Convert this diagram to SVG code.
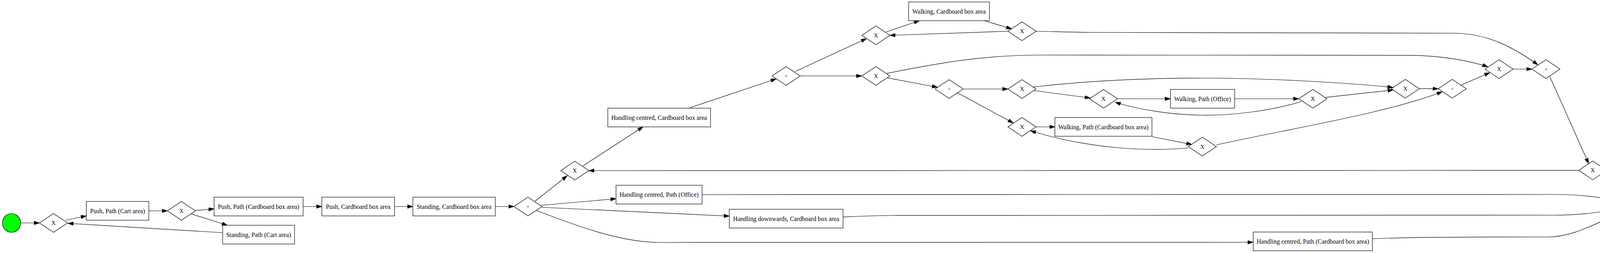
<svg xmlns="http://www.w3.org/2000/svg" width="4335" height="648" viewBox="0 0 4335 648">
<style>
.task rect{fill:#fff;stroke:#000;stroke-width:1.2}
.gw polygon{fill:#fff;stroke:#000;stroke-width:1.2}
text{font-family:"Liberation Serif","Times New Roman",serif;fill:#000;text-anchor:middle}
.t{font-size:16px}
.x{font-size:15px}
.p{font-size:13px}
#edges path{fill:none;stroke:#000;stroke-width:1.2;marker-end:url(#arr)}
</style>
<defs>
<marker id="arr" markerUnits="userSpaceOnUse" markerWidth="16" markerHeight="10" refX="14" refY="4.6" orient="auto">
<path d="M0,0 L14,4.6 L0,9.2 z" fill="#000" stroke="#000" stroke-width="1"/>
</marker>
</defs>
<rect width="4335" height="648" fill="#fff"/>
<g id="edges">
<path d="M53,571 L101,571"/>
<path d="M168,564 L221,553"/>
<path d="M381,540 L428.5,540"/>
<path d="M500,539 L548,535"/>
<path d="M490,548 L582,577"/>
<path d="M570,596 L174,572"/>
<path d="M776,529 L824,529"/>
<path d="M1010,529 L1057,529"/>
<path d="M1268,529 L1315.5,529"/>
<path d="M1369,516 L1452,450"/>
<path d="M1385,526 L1577,509"/>
<path d="M1387,531 L1867,553.5"/>
<path d="M1373,539 C1480,580 1590,621 1690,621 L3208,620.5"/>
<path d="M1492,425 L1646,325"/>
<path d="M1763,277 L1987,202"/>
<path d="M2036,183 L2218,99"/>
<path d="M2048.5,194.5 L2206.3,194.5"/>
<path d="M2268,82 L2353.6,53"/>
<path d="M2520,53 L2590,74"/>
<path d="M2580.3,80 L2278.3,90.5"/>
<path d="M2652.3,80 C2700,81 2760,83 2800,83 L3723,85 C3810,85 3880,125 3937,166"/>
<path d="M2270,188 C2420,158 2520,142 2660,141 L3606,141.6 C3700,141.6 3775,160 3809,171"/>
<path d="M2270,199 L2400,223.5"/>
<path d="M2465.7,228 L2580.3,228"/>
<path d="M2451.5,238 L2594,315"/>
<path d="M2645,223 C2800,205 2950,200 3077,200 C3250,200 3450,212 3566,224"/>
<path d="M2647,232 L2791,251"/>
<path d="M2652.3,325 L2700.5,325"/>
<path d="M2861,253 L2996.4,253"/>
<path d="M3160.7,253 L3325,253"/>
<path d="M3332,260 C3250,285 3150,296 3077,295 C3000,294 2920,282 2855,262"/>
<path d="M3394,249.3 L3566.6,230.5"/>
<path d="M2949,350 L3051,370"/>
<path d="M3042,379 C2950,387 2800,385 2638,335"/>
<path d="M3114,371 C3300,330 3550,290 3692,235"/>
<path d="M3740.7,218 L3814,186"/>
<path d="M3633.7,227.2 L3681.8,227.2"/>
<path d="M3873.6,177 L3921.6,177"/>
<path d="M3967.5,196 L4067,419"/>
<path d="M4041.5,436.4 L1507.5,437"/>
<path d="M4096,449.8 L4176,515"/>
<path d="M1797.4,498.5 L3979,498 C4060,498 4120,508 4167,520"/>
<path d="M2158,555.7 C2200,554 2250,551.7 2300,551.7 L3979,551 C4060,551 4120,540 4167,530"/>
<path d="M3513,611.5 C3600,608 3700,607 3960,607 C4040,607 4100,560 4176,537"/>
<path d="M4233.4,526 L4281,526"/>
</g>
<g id="start"><ellipse cx="29.5" cy="571" rx="23.5" ry="24" fill="#00ff00" stroke="#000" stroke-width="1.2"/></g>
<g id="end"><ellipse cx="4305.3" cy="526" rx="24" ry="24" fill="#ffa500" stroke="#000" stroke-width="1.2"/></g>
<g id="x1" class="gw"><polygon points="101,571 137,547 173,571 137,595"/><text class="x" x="137" y="576">X</text></g>
<g id="x2" class="gw"><polygon points="428.5,540 464.5,516 500.5,540 464.5,564"/><text class="x" x="464.5" y="545">X</text></g>
<g id="a1" class="gw"><polygon points="1315.5,529 1351.5,505 1387.5,529 1351.5,553"/><text class="p" x="1351.5" y="533.5">+</text></g>
<g id="x3" class="gw"><polygon points="1435.5,437 1471.5,413 1507.5,437 1471.5,461"/><text class="x" x="1471.5" y="442">X</text></g>
<g id="a2" class="gw"><polygon points="1976.5,194.5 2012.5,170.5 2048.5,194.5 2012.5,218.5"/><text class="p" x="2012.5" y="199">+</text></g>
<g id="x4" class="gw"><polygon points="2206.3,90.5 2242.3,66.5 2278.3,90.5 2242.3,114.5"/><text class="x" x="2242.3" y="95.5">X</text></g>
<g id="x5" class="gw"><polygon points="2580.3,80 2616.3,56 2652.3,80 2616.3,104"/><text class="x" x="2616.3" y="85">X</text></g>
<g id="x6" class="gw"><polygon points="2206.3,194.5 2242.3,170.5 2278.3,194.5 2242.3,218.5"/><text class="x" x="2242.3" y="199.5">X</text></g>
<g id="a3" class="gw"><polygon points="2393.7,228 2429.7,204 2465.7,228 2429.7,252"/><text class="p" x="2429.7" y="232.5">+</text></g>
<g id="x7" class="gw"><polygon points="2580.3,228 2616.3,204 2652.3,228 2616.3,252"/><text class="x" x="2616.3" y="233">X</text></g>
<g id="x8" class="gw"><polygon points="2580.3,325 2616.3,301 2652.3,325 2616.3,349"/><text class="x" x="2616.3" y="330">X</text></g>
<g id="x9" class="gw"><polygon points="2789,253 2825,229 2861,253 2825,277"/><text class="x" x="2825" y="258">X</text></g>
<g id="x10" class="gw"><polygon points="3325,253 3361,229 3397,253 3361,277"/><text class="x" x="3361" y="258">X</text></g>
<g id="x11" class="gw"><polygon points="3042,375.5 3078,351.5 3114,375.5 3078,399.5"/><text class="x" x="3078" y="380.5">X</text></g>
<g id="x12" class="gw"><polygon points="3561.7,227.2 3597.7,203.2 3633.7,227.2 3597.7,251.2"/><text class="x" x="3597.7" y="232.2">X</text></g>
<g id="a4" class="gw"><polygon points="3681.8,227.2 3717.8,203.2 3753.8,227.2 3717.8,251.2"/><text class="p" x="3717.8" y="231.7">+</text></g>
<g id="x13" class="gw"><polygon points="3801.6,177 3837.6,153 3873.6,177 3837.6,201"/><text class="x" x="3837.6" y="182">X</text></g>
<g id="a5" class="gw"><polygon points="3921.6,177 3957.6,153 3993.6,177 3957.6,201"/><text class="p" x="3957.6" y="181.5">+</text></g>
<g id="x14" class="gw"><polygon points="4041.5,436.4 4077.5,412.4 4113.5,436.4 4077.5,460.4"/><text class="x" x="4077.5" y="441.4">X</text></g>
<g id="a6" class="gw"><polygon points="4161.4,526 4197.4,502 4233.4,526 4197.4,550"/><text class="p" x="4197.4" y="530.5">+</text></g>
<g id="t_push_cart" class="task"><rect x="221" y="516" width="160" height="48"/><text class="t" x="301" y="545.5">Push, Path (Cart area)</text></g>
<g id="t_push_path_cba" class="task"><rect x="548" y="505" width="228" height="48"/><text class="t" x="662" y="534.5">Push, Path (Cardboard box area)</text></g>
<g id="t_standing_cart" class="task"><rect x="570" y="577" width="184" height="48"/><text class="t" x="662" y="606.5">Standing, Path (Cart area)</text></g>
<g id="t_push_cba" class="task"><rect x="824" y="505" width="186" height="48"/><text class="t" x="917" y="534.5">Push, Cardboard box area</text></g>
<g id="t_standing_cba" class="task"><rect x="1057" y="505" width="211" height="48"/><text class="t" x="1162.5" y="534.5">Standing, Cardboard box area</text></g>
<g id="t_handling_cba" class="task"><rect x="1556" y="277" width="263" height="48"/><text class="t" x="1687.5" y="306.5">Handling centred, Cardboard box area</text></g>
<g id="t_walking_cba" class="task"><rect x="2326" y="5" width="207" height="48"/><text class="t" x="2429.5" y="34.5">Walking, Cardboard box area</text></g>
<g id="t_walking_office" class="task"><rect x="2996.4" y="229" width="164.3" height="48"/><text class="t" x="3078.5" y="258.5">Walking, Path (Office)</text></g>
<g id="t_walking_path_cba" class="task"><rect x="2700.5" y="301" width="248.5" height="48"/><text class="t" x="2824.8" y="330.5">Walking, Path (Cardboard box area)</text></g>
<g id="t_hc_office" class="task"><rect x="1577" y="474.5" width="220.4" height="48"/><text class="t" x="1687.2" y="504">Handling centred, Path (Office)</text></g>
<g id="t_hd_cba" class="task"><rect x="1867" y="536" width="291.2" height="48"/><text class="t" x="2012.6" y="565.5">Handling downwards, Cardboard box area</text></g>
<g id="t_hc_path_cba" class="task"><rect x="3208.2" y="594.3" width="305.1" height="48"/><text class="t" x="3360.8" y="623.8">Handling centred, Path (Cardboard box area)</text></g>
</svg>
